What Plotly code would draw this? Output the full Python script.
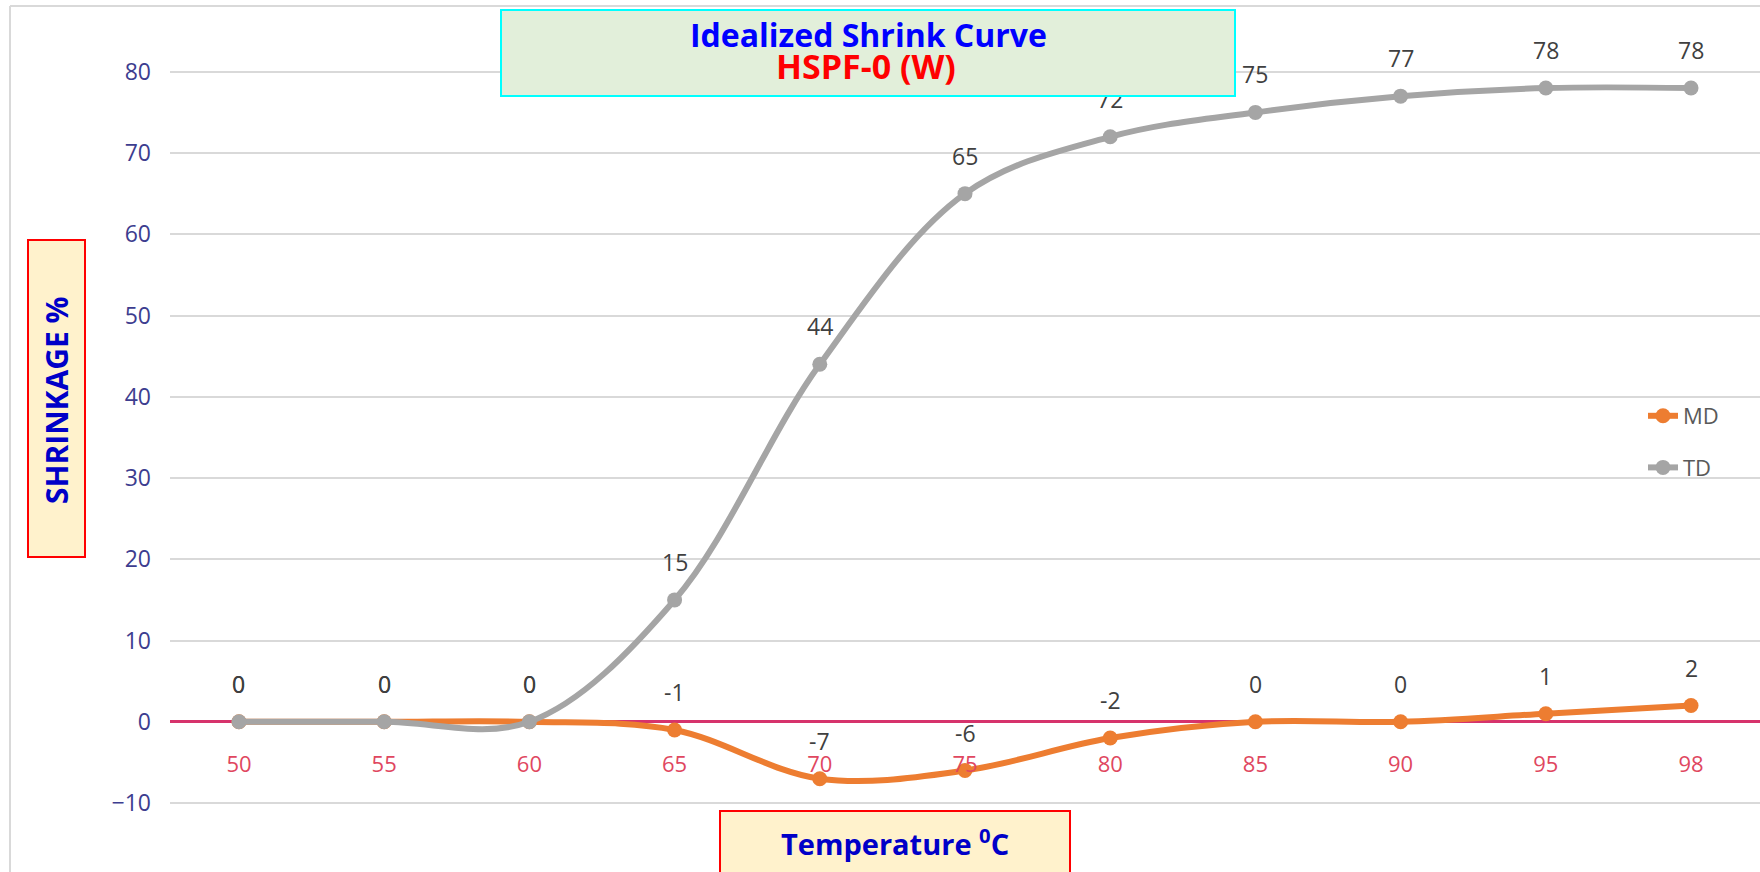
import plotly.graph_objects as go

# ---- data ----
temps = ["50", "55", "60", "65", "70", "75", "80", "85", "90", "95", "98"]
md = [0, 0, 0, -1, -7, -6, -2, 0, 0, 1, 2]
td = [0, 0, 0, 15, 44, 65, 72, 75, 77, 78, 78]
y_ticks = [-10, 0, 10, 20, 30, 40, 50, 60, 70, 80]

W, H = 1760, 872


def px(x):
    return x / W


def py(y):
    return 1 - y / H


idx = list(range(len(temps)))

fig = go.Figure()
fig.add_trace(go.Scatter(
    x=idx, y=md, name="MD", mode="lines+markers", legendgroup="md",
    line=dict(color="#ED7D31", width=6, shape="spline", smoothing=1),
    marker=dict(size=15, color="#ED7D31"), hoverinfo="skip"))
fig.add_trace(go.Scatter(
    x=idx, y=td, name="TD", mode="lines+markers", legendgroup="td",
    line=dict(color="#A5A5A5", width=6, shape="spline", smoothing=1),
    marker=dict(size=15, color="#A5A5A5"), hoverinfo="skip"))

annotations = []
for series in (md, td):
    for i, v in zip(idx, series):
        annotations.append(dict(
            x=i, y=v, xref="x", yref="y", text=str(v), showarrow=False,
            yshift=38, xanchor="center", yanchor="middle",
            font=dict(family="Open Sans", size=23, color="#404040")))

# title box (annotation so it sits above the data labels)
annotations.append(dict(
    x=px((499.5 + 1236) / 2), y=py(52.75), xref="paper", yref="paper",
    text="", showarrow=False, width=732, height=84, borderpad=0,
    bgcolor="#E2EFDA", bordercolor="#00FFFF", borderwidth=2,
    xanchor="center", yanchor="middle"))
annotations.append(dict(
    x=px(868), y=py(34), xref="paper", yref="paper", showarrow=False,
    text="<b>Idealized Shrink Curve</b>", xanchor="center", yanchor="middle",
    font=dict(family="Open Sans", size=32, color="#0000FF")))
annotations.append(dict(
    x=px(866), y=py(66), xref="paper", yref="paper", showarrow=False,
    text="<b>HSPF-0 (W)</b>", xanchor="center", yanchor="middle",
    font=dict(family="Open Sans", size=34, color="#FF0000")))

# axis label texts
annotations.append(dict(
    x=px(56), y=py(400), xref="paper", yref="paper", showarrow=False,
    text="<b>SHRINKAGE %</b>", textangle=-90, xanchor="center", yanchor="middle",
    font=dict(family="Open Sans", size=30, color="#0000C8")))
annotations.append(dict(
    x=px(895), y=py(842), xref="paper", yref="paper", showarrow=False,
    text="<b>Temperature <sup>0</sup>C</b>", xanchor="center", yanchor="middle",
    font=dict(family="Open Sans", size=29, color="#0000C8")))

shapes = [
    # chart border
    dict(type="line", xref="paper", yref="paper", x0=px(10), x1=px(10), y0=py(6), y1=0,
         line=dict(color="#D9D9D9", width=2)),
    dict(type="line", xref="paper", yref="paper", x0=px(10), x1=1, y0=py(6), y1=py(6),
         line=dict(color="#D9D9D9", width=2)),
    # white patch over gridline segment
    dict(type="rect", xref="paper", yref="y", x0=px(1053), x1=px(1327), y0=8.6, y1=11.4,
         fillcolor="white", line=dict(width=0), layer="between"),
    # axis title boxes
    dict(type="rect", xref="paper", yref="paper", x0=px(28), x1=px(85), y0=py(557), y1=py(240),
         fillcolor="#FFF2CC", line=dict(color="#FF0000", width=2), layer="above"),
    dict(type="rect", xref="paper", yref="paper", x0=px(720), x1=px(1070), y0=py(880), y1=py(811),
         fillcolor="#FFF2CC", line=dict(color="#FF0000", width=2), layer="above"),
]

y_top = 80 + 71.8 / 8.125
y_bot = -(872 - 721.8) / 8.125

fig.update_layout(
    width=W, height=H, margin=dict(l=0, r=0, t=0, b=0),
    paper_bgcolor="white", plot_bgcolor="white",
    showlegend=True,
    legend=dict(x=px(1643), y=py(395), xanchor="left", yanchor="top",
                traceorder="grouped", tracegroupgap=20,
                bgcolor="rgba(0,0,0,0)",
                font=dict(family="Open Sans", size=22, color="#595959")),
    xaxis=dict(domain=[px(170), 1], range=[-0.475, 10.475],
               tickmode="array", tickvals=idx, ticktext=temps,
               showgrid=False, zeroline=False, showline=False, ticks="",
               anchor="free", position=(872 - 721.8) / 872,
               ticklabelstandoff=27,
               tickfont=dict(family="Open Sans", size=22, color="#E0475F")),
    yaxis=dict(domain=[0, 1], range=[y_bot, y_top],
               tickmode="array", tickvals=y_ticks,
               showgrid=True, gridcolor="#D9D9D9", gridwidth=2,
               zeroline=True, zerolinecolor="#D6336C", zerolinewidth=3,
               showline=False, ticks="", ticklabelstandoff=18,
               tickfont=dict(family="Open Sans", size=23, color="#3D3D8F")),
    annotations=annotations, shapes=shapes,
)

fig.write_html("out.html", config={"displayModeBar": False},
               post_script="document.body.style.margin='0';")
